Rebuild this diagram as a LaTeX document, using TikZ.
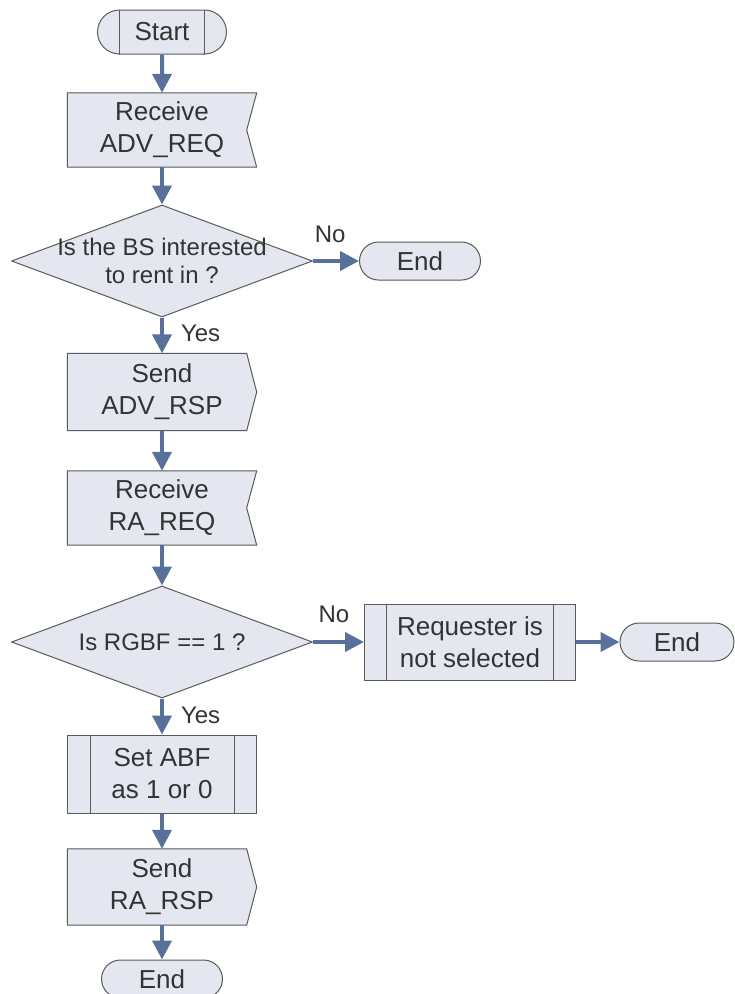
\documentclass[tikz,border=0pt]{standalone}
\usepackage{fontspec}
\setmainfont{Liberation Sans}
\usetikzlibrary{shapes.geometric, shapes.misc, arrows.meta, backgrounds}
\definecolor{boxfill}{HTML}{E4E7EF}
\definecolor{boxline}{HTML}{5A5A5A}
\definecolor{flow}{HTML}{57719B}
\definecolor{ink}{HTML}{333333}

\begin{document}
\begin{tikzpicture}[x=1pt, y=-1pt,
    term/.style={rounded rectangle, draw=boxline, fill=boxfill, line width=1pt, minimum width=121pt, minimum height=38pt, inner sep=0pt, text=ink, font=\fontsize{26}{32}\selectfont},
    io/.style={minimum width=189pt, minimum height=74pt, inner sep=0pt, align=center, text=ink, font=\fontsize{26}{32}\selectfont},
    proc/.style={rectangle, draw=boxline, fill=boxfill, line width=1pt, minimum width=189pt, minimum height=78pt, inner sep=0pt, align=center, text=ink, font=\fontsize{26}{32}\selectfont},
    decision/.style={diamond, draw=boxline, fill=boxfill, line width=1pt, minimum width=301pt, minimum height=112pt, inner sep=0pt},
    dectext/.style={align=center, text=ink, font=\fontsize{24}{28}\selectfont},
    outline/.style={draw=boxline, fill=boxfill, line width=1pt},
    divider/.style={draw=boxline, line width=1pt},
    flowline/.style={draw=flow, line width=4pt, -{Triangle[width=19pt, length=19pt]}},
    tag/.style={text=ink, inner sep=0pt, font=\fontsize{24}{28}\selectfont}]
    \useasboundingbox (0, 0) rectangle (735, 994);

    \node[term, minimum width=129pt, minimum height=44pt] (start) at (162, 32) {Start};
    \node[io] (recv1) at (162, 130) {Receive\\ADV\_REQ};
    \node[decision] (dec1) at (162, 261) {};
    \node[dectext] (dec1txt) at (dec1) {Is the BS interested\\to rent in ?};
    \node[term] (end1) at (420, 261) {End};
    \node[io, minimum height=77pt] (send1) at (162, 392) {Send\\ADV\_RSP};
    \node[io] (recv2) at (162, 508) {Receive\\RA\_REQ};
    \node[decision] (dec2) at (162, 642) {};
    \node[dectext] (dec2txt) at (dec2) {Is RGBF == 1 ?};
    \node[proc, minimum width=211pt, minimum height=76pt] (notsel) at (470, 642) {Requester is\\not selected};
    \node[term, minimum width=114pt] (end2) at (677, 642) {End};
    \node[proc] (abf) at (162, 774) {Set ABF\\as 1 or 0};
    \node[io, minimum height=76pt] (send2) at (162, 887) {Send\\RA\_RSP};
    \node[term] (end3) at (162, 979) {End};

    \begin{scope}[on background layer]
        \draw[outline] (recv1.north west) -- (recv1.north east) -- ([xshift=-10pt]recv1.east) -- (recv1.south east) -- (recv1.south west) -- cycle;
        \draw[outline] (recv2.north west) -- (recv2.north east) -- ([xshift=-10pt]recv2.east) -- (recv2.south east) -- (recv2.south west) -- cycle;
        \draw[outline] (send1.north west) -- ([xshift=-10pt]send1.north east) -- (send1.east) -- ([xshift=-10pt]send1.south east) -- (send1.south west) -- cycle;
        \draw[outline] (send2.north west) -- ([xshift=-10pt]send2.north east) -- (send2.east) -- ([xshift=-10pt]send2.south east) -- (send2.south west) -- cycle;
    \end{scope}

    \draw[divider] ([xshift=-42.5pt]start.north) -- ([xshift=-42.5pt]start.south);
    \draw[divider] ([xshift=42.5pt]start.north) -- ([xshift=42.5pt]start.south);
    \draw[divider] ([xshift=22pt]notsel.north west) -- ([xshift=22pt]notsel.south west);
    \draw[divider] ([xshift=-23pt]notsel.north east) -- ([xshift=-23pt]notsel.south east);
    \draw[divider] ([xshift=23pt]abf.north west) -- ([xshift=23pt]abf.south west);
    \draw[divider] ([xshift=-23pt]abf.north east) -- ([xshift=-23pt]abf.south east);

    \draw[flowline] (start) -- (recv1);
    \draw[flowline] (recv1) -- (dec1);
    \draw[flowline] (dec1) -- node[tag, pos=0.375, above=16pt] (no1) {No} (end1);
    \draw[flowline] (dec1) -- node[tag, pos=0.43, right=17pt] (yes1) {Yes} (send1);
    \draw[flowline] (send1) -- (recv2);
    \draw[flowline] (recv2) -- (dec2);
    \draw[flowline] (dec2) -- node[tag, pos=0.41, above=17pt] (no2) {No} (notsel);
    \draw[flowline] (notsel) -- (end2);
    \draw[flowline] (dec2) -- node[tag, pos=0.46, right=17pt] (yes2) {Yes} (abf);
    \draw[flowline] (abf) -- (send2);
    \draw[flowline] (send2) -- (end3);
\end{tikzpicture}
\end{document}
